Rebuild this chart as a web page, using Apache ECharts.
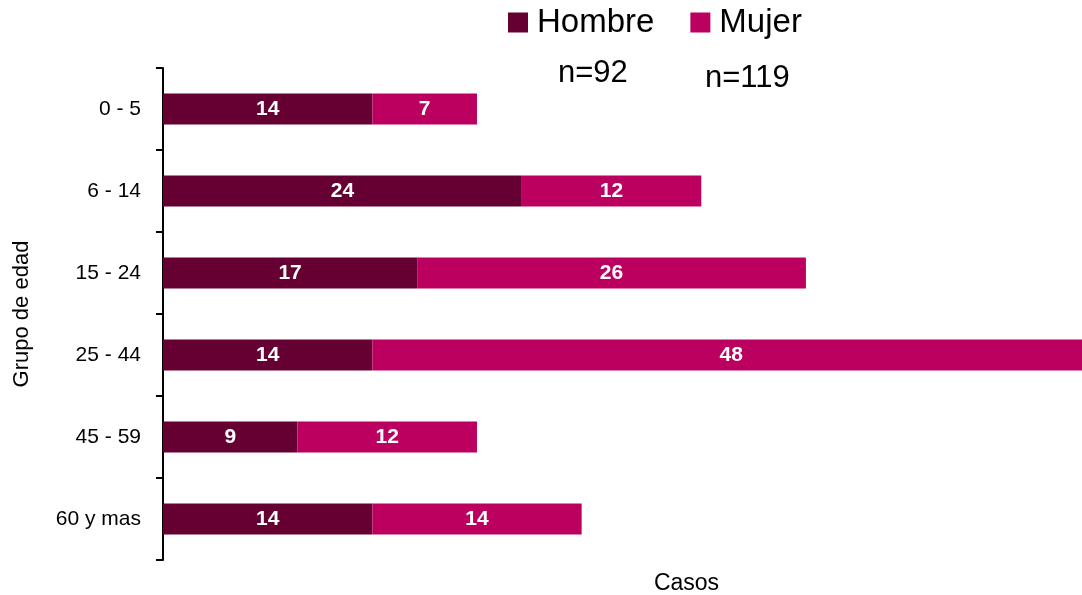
<!DOCTYPE html>
<html>
<head>
<meta charset="utf-8">
<script src="https://cdn.jsdelivr.net/npm/echarts@6/dist/echarts.min.js"></script>
<style>html,body{margin:0;padding:0;background:#fff}#c{width:1082px;height:595px}</style>
</head>
<body>
<div id="c"></div>
<script>
const categories = ['0 - 5', '6 - 14', '15 - 24', '25 - 44', '45 - 59', '60 y mas'];
const hombre = [14, 24, 17, 14, 9, 14];
const mujer = [7, 12, 26, 48, 12, 14];
const seriesNames = ['Hombre', 'Mujer'];
const totals = ['n=92', 'n=119'];
const xTitle = 'Casos';
const yTitle = 'Grupo de edad';

const font = 'Liberation Sans, Arial, sans-serif';
const chart = echarts.init(document.getElementById('c'));
chart.setOption({
  animation: false,
  legend: {
    left: 503, top: 1,
    itemWidth: 20, itemHeight: 20, itemGap: 36,
    icon: 'rect',
    textStyle: { fontSize: 33, fontFamily: font, color: '#000', padding: [0, 0, 0, 4] },
    data: seriesNames
  },
  graphic: [
    { type: 'text', left: 558, top: 58, style: { text: totals[0], fontSize: 31, fontFamily: font, fill: '#000' } },
    { type: 'text', left: 705, top: 63, style: { text: totals[1], fontSize: 31, fontFamily: font, fill: '#000' } }
  ],
  grid: { left: 163, top: 68, height: 492, width: 927, outerBoundsMode: 'none', containLabel: false },
  xAxis: {
    type: 'value', min: 0, max: 62,
    axisLine: { show: false }, axisTick: { show: false }, axisLabel: { show: false }, splitLine: { show: false },
    name: xTitle, nameLocation: 'middle', nameGap: 12,
    nameTextStyle: { fontSize: 23, fontFamily: font, color: '#000', padding: [0, 0, 0, 120] }
  },
  yAxis: {
    type: 'category', inverse: true, data: categories,
    axisLine: { lineStyle: { color: '#000', width: 2 } },
    axisTick: { show: true, length: 7, lineStyle: { color: '#000', width: 2 } },
    axisLabel: { fontSize: 21, fontFamily: font, color: '#000', margin: 22 },
    name: yTitle, nameLocation: 'middle', nameGap: 130, nameRotate: 90,
    nameTextStyle: { fontSize: 22, fontFamily: font, color: '#000' }
  },
  series: [
    {
      name: seriesNames[0], type: 'bar', stack: 't', data: hombre, barCategoryGap: '62%',
      itemStyle: { color: '#660033' },
      label: { show: true, position: 'inside', color: '#fff', fontWeight: 'bold', fontSize: 21, fontFamily: font }
    },
    {
      name: seriesNames[1], type: 'bar', stack: 't', data: mujer, barCategoryGap: '62%',
      itemStyle: { color: '#BB0060' },
      label: { show: true, position: 'inside', color: '#fff', fontWeight: 'bold', fontSize: 21, fontFamily: font }
    }
  ]
});
</script>
</body>
</html>
